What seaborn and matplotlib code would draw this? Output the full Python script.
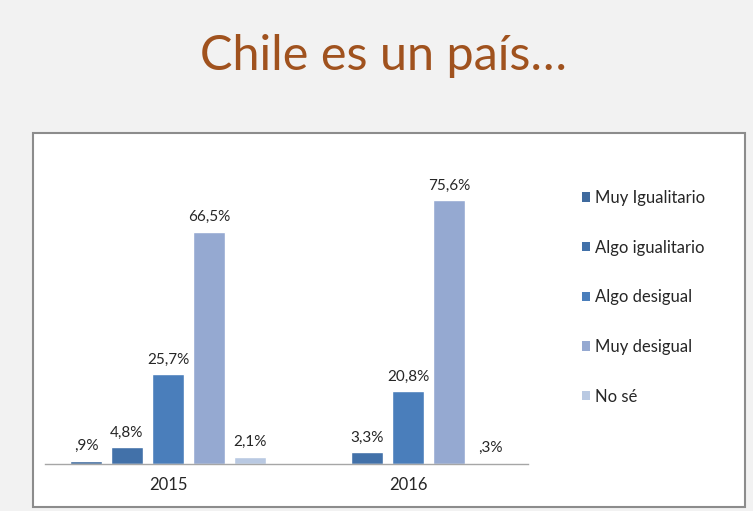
import matplotlib
matplotlib.use("Agg")
import matplotlib.pyplot as plt
from matplotlib.patches import Rectangle, Patch
import seaborn as sns
import pandas as pd
import numpy as np

years = ["2015", "2016"]
categories = ["Muy Igualitario", "Algo igualitario", "Algo desigual", "Muy desigual", "No sé"]
muy_igualitario = [0.9, np.nan]
algo_igualitario = [4.8, 3.3]
algo_desigual = [25.7, 20.8]
muy_desigual = [66.5, 75.6]
no_se = [2.1, 0.3]
colors = ["#3F6A9E", "#4271A9", "#4A7EBB", "#95A9D1", "#B9C9E2"]
title = "Chile es un país…"

series = [muy_igualitario, algo_igualitario, algo_desigual, muy_desigual, no_se]
rows = []
for cat, vals in zip(categories, series):
    for y, v in zip(years, vals):
        rows.append({"year": y, "cat": cat, "value": v})
df = pd.DataFrame(rows)

sns.set_style("white")
plt.rcParams["font.family"] = ["Lato", "DejaVu Sans"]

fig = plt.figure(figsize=(7.53, 5.11), dpi=100)
fig.patch.set_facecolor("#F2F2F2")

# white chart box
box = Rectangle((33 / 753, 1 - 507 / 511), (745 - 33) / 753, (507 - 133) / 511,
                transform=fig.transFigure, facecolor="white", edgecolor="#8C8C8C",
                linewidth=1.5, zorder=-1)
fig.patches.append(box)

fig.text(383 / 753, 1 - 56 / 511, title, ha="center", va="center",
         fontsize=35, color="#A0521E")

ax = fig.add_axes([45 / 753, 1 - 464 / 511, 483 / 753, 279.2 / 511])
ax.set_facecolor("none")
ax.set_zorder(2)
sns.barplot(data=df, x="year", y="value", hue="cat", hue_order=categories,
            order=years, palette=colors, width=0.855, gap=0.2, ax=ax,
            errorbar=None, saturation=1, legend=False)

def fmt(v):
    s = f"{v:.1f}".replace(".", ",")
    if s.startswith("0"):
        s = s[1:]
    return s + "%"

for cont in ax.containers:
    labs = ["" if np.isnan(v) else fmt(v) for v in cont.datavalues]
    ax.bar_label(cont, labels=labs, padding=5.5, fontsize=11, color="#262626")

ax.set_ylim(0, 80)
ax.set_xlim(-0.5125, 1.5)
ax.set_xlabel("")
ax.set_ylabel("")
ax.set_yticks([])
for s in ["top", "right", "left"]:
    ax.spines[s].set_visible(False)
ax.spines["bottom"].set_color("#A6A6A6")
ax.spines["bottom"].set_linewidth(1)
ax.tick_params(axis="x", length=0, pad=9, labelsize=12, labelcolor="#262626")

handles = [Patch(facecolor=c, edgecolor="none") for c in colors]
fig.legend(handles, categories, loc="upper left",
           bbox_to_anchor=(582 / 753, 1 - 190 / 511), frameon=False,
           fontsize=12, handlelength=0.5, handleheight=0.5, handletextpad=0.3,
           labelspacing=2.02, labelcolor="#262626", borderaxespad=0, borderpad=0)

fig.savefig("out.png", dpi=100, facecolor=fig.get_facecolor())
